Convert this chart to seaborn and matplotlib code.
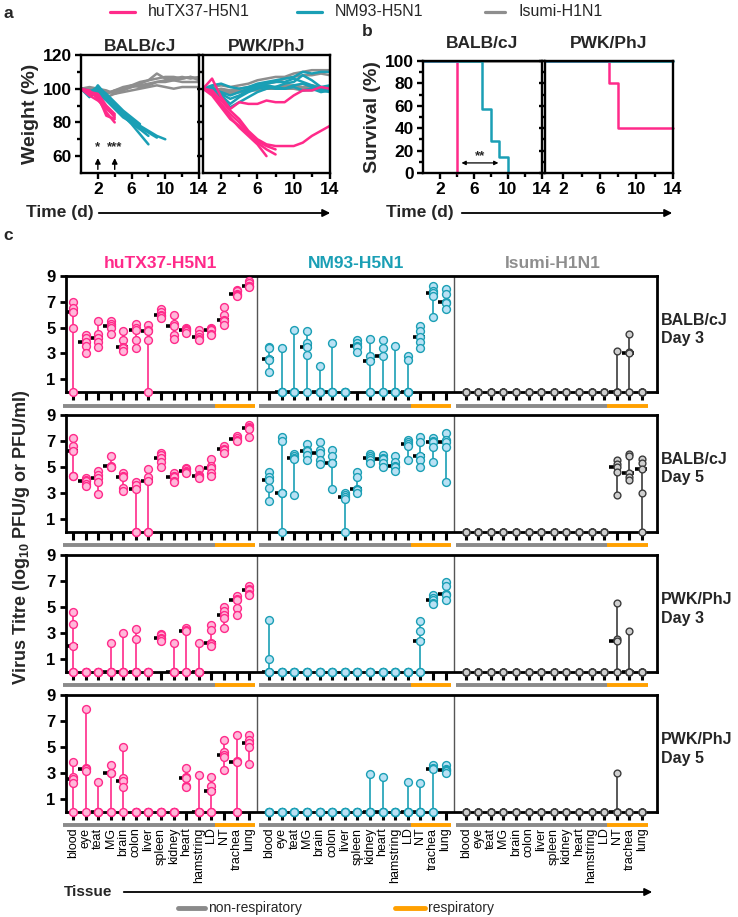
import numpy as np
import pandas as pd
import matplotlib
matplotlib.use('Agg')
import matplotlib.pyplot as plt
from matplotlib.lines import Line2D
from matplotlib.patches import FancyArrowPatch
import seaborn as sns

# ---- panel a : weight (%) per mouse, day 0..n ----
days = list(range(15))

balb_tx37 = [[100, 98, 95, 88, 84],
             [100, 97, 96, 84, 82],
             [100, 99, 94, 86, 80],
             [100, 96, 93, 89, 83],
             [100, 98, 97, 90, 85]]
balb_nm93 = [[100, 98, 101, 97, 92, 87, 83, 79],
             [100, 96, 99, 95, 90, 85, 80, 76],
             [100, 95, 102, 96, 91, 86, 82, 78],
             [100, 97, 100, 94, 89, 84, 80, 76, 72],
             [100, 99, 98, 95, 90, 84, 79, 73, 67],
             [100, 96, 97, 93, 88, 83, 80, 77, 74, 71],
             [100, 98, 100, 96, 91, 86, 81, 78, 75, 72, 70]]
balb_isumi = [[100, 99, 98, 97, 99, 100, 101, 103, 105, 109, 106, 105, 106, 107, 105],
              [100, 100, 99, 98, 98, 100, 102, 104, 105, 106, 107, 107, 106, 107, 106],
              [100, 97, 96, 95, 97, 99, 101, 102, 103, 104, 105, 106, 107, 106, 107],
              [100, 98, 98, 97, 99, 101, 102, 101, 102, 104, 104, 105, 104, 104, 104],
              [100, 101, 100, 99, 97, 98, 99, 100, 101, 102, 101, 100, 101, 101, 101]]
pwk_tx37 = [[100, 106, 95, 88, 92, 91, 91, 93, 92, 92, 96, 99, 99, 101, 100],
            [100, 99, 93, 87, 82, 75, 70, 67, 66, 66, 66, 68, 72, 75, 78],
            [100, 97, 90, 83, 77, 72, 67, 60],
            [100, 96, 89, 82, 78, 73, 68, 64, 61],
            [100, 98, 91, 85, 80, 74, 69, 66, 64]]
pwk_nm93 = [[100, 102, 103, 101, 100, 101, 103, 104, 105, 106, 107, 110, 109, 110, 110],
            [100, 98, 95, 89, 92, 95, 98, 100, 101, 103, 104, 108, 105, 101, 102],
            [100, 99, 96, 91, 95, 98, 100, 101, 100, 100, 101, 99, 100, 98, 99],
            [100, 101, 97, 94, 96, 99, 101, 102, 101, 100, 102, 103, 101, 99, 98],
            [100, 100, 98, 96, 98, 100, 102, 103, 104, 104, 106, 104, 102, 100, 100]]
pwk_isumi = [[100, 101, 102, 101, 102, 103, 105, 106, 107, 107, 109, 110, 111, 111, 111],
             [100, 99, 100, 99, 100, 101, 102, 103, 104, 106, 107, 108, 108, 109, 108],
             [100, 98, 97, 97, 98, 99, 99, 100, 100, 101, 101, 100, 101, 100, 101],
             [100, 99, 98, 98, 99, 99, 100, 101, 100, 100, 100, 99, 99, 100, 99],
             [100, 100, 99, 98, 98, 99, 100, 100, 101, 102, 102, 101, 102, 101, 100]]

# ---- panel b : survival (%) ----
surv_balb_tx37_d = [0, 4]
surv_balb_tx37 = [100, 0]
surv_balb_nm93_d = [0, 7, 8, 9, 10]
surv_balb_nm93 = [100, 57.1, 28.6, 14.3, 0]
surv_balb_isumi_d = [0, 14]
surv_balb_isumi = [100, 100]
surv_pwk_tx37_d = [0, 7, 8, 14]
surv_pwk_tx37 = [100, 80, 40, 40]
surv_pwk_nm93_d = [0, 14]
surv_pwk_nm93 = [100, 100]
surv_pwk_isumi_d = [0, 14]
surv_pwk_isumi = [100, 100]

# ---- panel c : virus titres (log10), one list per tissue ----
tissues = ['blood', 'eye', 'teat', 'MG', 'brain', 'colon', 'liver', 'spleen',
           'kidney', 'heart', 'hamstring', 'LD', 'NT', 'trachea', 'lung']
viruses = ['huTX37-H5N1', 'NM93-H5N1', 'Isumi-H1N1']

tx37_balb_d3 = [[7.0, 6.5, 6.2, 5.0, 0], [4.4, 4.2, 3.9, 3.6, 3.0], [5.5, 4.5, 4.2, 3.9, 3.5],
                [5.5, 5.3, 5.1, 5.0, 4.5], [4.7, 4.0, 3.5, 3.4, 3.2], [5.3, 5.0, 4.8, 4.0, 3.4],
                [5.2, 4.8, 4.7, 4.0, 0], [6.4, 6.2, 6.0, 5.9, 5.7], [6.0, 5.3, 5.1, 4.4, 4.1],
                [5.0, 4.9, 4.8, 4.7, 4.6], [4.8, 4.5, 4.3, 4.1, 4.0], [5.0, 4.9, 4.8, 4.5, 4.4],
                [6.6, 6.0, 5.6, 5.5, 5.2], [7.9, 7.8, 7.6, 7.5, 7.4], [8.6, 8.4, 8.2, 8.2, 8.1]]
nm93_balb_d3 = [[3.5, 3.4, 2.6, 2.5, 1.6], [3.4, 0, 0, 0, 0], [4.8, 0, 0, 0, 0],
                [4.7, 3.8, 3.5, 2.9, 0], [2.0, 0, 0, 0, 0], [3.8, 0, 0, 0, 0],
                [0, 0, 0, 0, 0], [4.0, 3.8, 3.6, 3.5, 3.1], [4.1, 2.8, 2.4, 0, 0],
                [4.0, 3.4, 2.8, 0, 0], [3.6, 0, 0, 0, 0], [2.8, 2.5, 0, 0, 0],
                [5.1, 4.7, 4.3, 3.9, 3.4], [8.2, 7.8, 7.7, 7.4, 5.8], [8.0, 7.6, 7.0, 6.9, 6.4]]
isumi_balb_d3 = [[0, 0, 0, 0, 0], [0, 0, 0, 0, 0], [0, 0, 0, 0, 0], [0, 0, 0, 0, 0],
                 [0, 0, 0, 0, 0], [0, 0, 0, 0, 0], [0, 0, 0, 0, 0], [0, 0, 0, 0, 0],
                 [0, 0, 0, 0, 0], [0, 0, 0, 0, 0], [0, 0, 0, 0, 0], [0, 0, 0, 0, 0],
                 [3.2, 0, 0, 0, 0], [4.5, 3.1, 3.0, 0, 0], [0, 0, 0, 0, 0]]

tx37_balb_d5 = [[7.2, 6.6, 6.2, 4.3, 4.3], [4.1, 4.0, 3.9, 3.7, 3.5], [4.7, 4.4, 4.1, 3.8, 2.9],
                [5.8, 5.1, 5.0, 5.0], [4.5, 4.3, 4.2, 3.4, 3.1], [3.8, 3.6, 3.3, 0, 0],
                [4.8, 4.2, 3.9, 0, 0], [6.1, 5.9, 5.7, 5.4, 5.0], [4.5, 4.3, 4.2, 3.9, 3.8],
                [4.9, 4.8, 4.7, 4.6, 4.5], [4.8, 4.4, 4.3, 4.2, 4.1], [5.6, 5.1, 4.9, 4.5, 4.3],
                [6.6, 6.4, 6.3, 6.1], [7.4, 7.2, 7.1, 7.0], [8.2, 8.1, 8.0, 7.9, 7.3]]
nm93_balb_d5 = [[4.6, 4.2, 4.0, 3.4, 2.4], [7.3, 7.0, 3.0, 3.0, 0], [6.0, 5.8, 5.7, 5.6, 2.8],
                [6.8, 6.3, 6.2, 5.9, 5.5], [6.9, 6.3, 6.1, 5.5, 5.2], [6.3, 5.8, 5.3, 5.3, 3.3],
                [3.0, 2.8, 2.7, 2.5, 0], [4.6, 4.2, 3.3, 3.2, 3.0], [6.0, 5.8, 5.7, 5.5, 5.3],
                [5.9, 5.7, 5.6, 5.3, 5.0], [5.8, 5.4, 5.1, 5.0, 4.7], [7.1, 6.9, 6.8, 6.6, 5.5],
                [7.3, 6.9, 5.8, 5.5, 5.0], [7.2, 7.0, 6.9, 6.5, 5.4], [7.6, 7.1, 6.9, 6.5, 3.8]]
isumi_balb_d5 = [[0, 0, 0, 0, 0], [0, 0, 0, 0, 0], [0, 0, 0, 0, 0], [0, 0, 0, 0, 0],
                 [0, 0, 0, 0, 0], [0, 0, 0, 0, 0], [0, 0, 0, 0, 0], [0, 0, 0, 0, 0],
                 [0, 0, 0, 0, 0], [0, 0, 0, 0, 0], [0, 0, 0, 0, 0], [0, 0, 0, 0, 0],
                 [5.5, 5.2, 5.0, 4.6, 2.8], [6.0, 5.8, 4.5, 4.2, 4.0], [5.6, 5.3, 4.8, 3.0, 0]]

tx37_pwk_d3 = [[4.6, 3.7, 2.0, 0, 0], [0, 0, 0, 0, 0], [0, 0, 0, 0, 0],
               [2.2, 0, 0, 0, 0], [3.0, 0, 0, 0, 0], [3.3, 2.5, 0, 0, 0],
               [0, 0, 0, 0, 0], [2.9, 2.8, 2.6, 2.5, 2.4], [2.2, 0, 0, 0, 0],
               [3.4, 3.2, 3.1, 0, 0], [2.2, 0, 0, 0, 0], [3.6, 3.2, 2.2, 2.1, 2.0],
               [5.0, 4.7, 4.4, 4.1, 3.4], [5.8, 5.6, 5.5, 4.9, 4.4], [6.6, 6.4, 6.3, 6.0, 5.9]]
nm93_pwk_d3 = [[4.0, 1.0, 0, 0, 0], [0, 0, 0, 0, 0], [0, 0, 0, 0, 0], [0, 0, 0, 0, 0],
               [0, 0, 0, 0, 0], [0, 0, 0, 0, 0], [0, 0, 0, 0, 0], [0, 0, 0, 0, 0],
               [0, 0, 0, 0, 0], [0, 0, 0, 0, 0], [0, 0, 0, 0, 0], [0, 0, 0, 0, 0],
               [3.9, 3.1, 2.4, 0, 0], [5.9, 5.7, 5.5, 5.3, 5.2], [6.9, 6.6, 6.0, 5.9, 5.5]]
isumi_pwk_d3 = [[0, 0, 0, 0, 0], [0, 0, 0, 0, 0], [0, 0, 0, 0, 0], [0, 0, 0, 0, 0],
                [0, 0, 0, 0, 0], [0, 0, 0, 0, 0], [0, 0, 0, 0, 0], [0, 0, 0, 0, 0],
                [0, 0, 0, 0, 0], [0, 0, 0, 0, 0], [0, 0, 0, 0, 0], [0, 0, 0, 0, 0],
                [5.3, 2.5, 2.4, 0, 0], [3.1, 0, 0, 0, 0], [0, 0, 0, 0, 0]]

tx37_pwk_d5 = [[3.8, 2.7, 2.5, 2.2, 0], [7.9, 3.4, 3.3, 3.1, 0], [2.3, 0, 0, 0, 0],
               [3.6, 3.0, 3.0, 0, 0], [5.0, 2.6, 2.4, 1.9, 0], [0, 0, 0, 0, 0],
               [0, 0, 0, 0, 0], [0, 0, 0, 0, 0], [0, 0, 0, 0, 0],
               [3.4, 2.7, 2.6, 2.0, 1.9], [2.8, 0, 0, 0, 0], [2.7, 2.0, 1.6, 0, 0],
               [5.5, 4.6, 4.4, 4.2, 3.2], [5.9, 3.9, 3.8, 0, 0], [5.9, 5.5, 5.3, 5.0, 3.7]]
nm93_pwk_d5 = [[0, 0, 0, 0, 0], [0, 0, 0, 0, 0], [0, 0, 0, 0, 0], [0, 0, 0, 0, 0],
               [0, 0, 0, 0, 0], [0, 0, 0, 0, 0], [0, 0, 0, 0, 0], [0, 0, 0, 0, 0],
               [2.9, 0, 0, 0, 0], [2.7, 0, 0, 0, 0], [0, 0, 0, 0, 0], [2.3, 0, 0, 0, 0],
               [2.2, 0, 0, 0, 0], [3.6, 3.4, 3.3, 0, 0], [3.6, 3.3, 3.2, 3.1, 3.0]]
isumi_pwk_d5 = [[0, 0, 0, 0, 0], [0, 0, 0, 0, 0], [0, 0, 0, 0, 0], [0, 0, 0, 0, 0],
                [0, 0, 0, 0, 0], [0, 0, 0, 0, 0], [0, 0, 0, 0, 0], [0, 0, 0, 0, 0],
                [0, 0, 0, 0, 0], [0, 0, 0, 0, 0], [0, 0, 0, 0, 0], [0, 0, 0, 0, 0],
                [3.0, 0, 0, 0, 0], [0, 0, 0, 0, 0], [0, 0, 0, 0, 0]]

row_labels = ['BALB/cJ\nDay 3', 'BALB/cJ\nDay 5', 'PWK/PhJ\nDay 3', 'PWK/PhJ\nDay 5']

# colours
PINK, PINK_FILL = '#ff2a8a', '#ffb8da'
TEAL, TEAL_FILL = '#1a9fb5', '#b9e1f4'
GREY, GREY_DARK, GREY_FILL = '#8e8e8e', '#3c3c3c', '#cfcfcf'
ORANGE, BAR_GREY = '#ffa000', '#8a8a8a'

sns.set_theme(style='ticks')
plt.rcParams['font.family'] = ['Liberation Sans', 'DejaVu Sans']
plt.rcParams['mathtext.fontset'] = 'custom'
plt.rcParams['mathtext.rm'] = 'Liberation Sans:bold'
plt.rcParams['mathtext.bf'] = 'Liberation Sans:bold'

W, H = 738, 917
fig = plt.figure(figsize=(W / 100, H / 100), dpi=100)


def add_ax(l, t, r, b):
    # axes from pixel box (left, top, right, bottom)
    return fig.add_axes([l / W, 1 - b / H, (r - l) / W, (b - t) / H])


def fy(y):
    return 1 - y / H


def style_box(ax, lw=1.7, size=12.5):
    for s in ax.spines.values():
        s.set_linewidth(lw)
        s.set_color('black')
    ax.tick_params(which='both', direction='out', width=lw, colors='black',
                   labelsize=size, pad=2)
    ax.tick_params(which='major', length=4.5)
    ax.tick_params(which='minor', length=3)
    for lab in ax.get_xticklabels() + ax.get_yticklabels():
        lab.set_fontweight('bold')


def weights_df(groups):
    recs = []
    for virus, mice in groups:
        for m, w in enumerate(mice):
            for d, v in zip(days, w):
                recs.append({'virus': virus, 'mouse': m, 'day': d, 'weight': v})
    return pd.DataFrame(recs)


pal = {viruses[0]: PINK, viruses[1]: TEAL, viruses[2]: GREY}

# ---------------- panel a ----------------
a_sets = [('BALB/cJ', [(viruses[2], balb_isumi), (viruses[1], balb_nm93), (viruses[0], balb_tx37)]),
          ('PWK/PhJ', [(viruses[2], pwk_isumi), (viruses[1], pwk_nm93), (viruses[0], pwk_tx37)])]
a_boxes = [(81, 55, 199, 173), (203, 55, 330, 173)]
for k, (title, groups) in enumerate(a_sets):
    ax = add_ax(*a_boxes[k])
    df = weights_df(groups)
    sns.lineplot(data=df, x='day', y='weight', hue='virus', units='mouse',
                 estimator=None, palette=pal, legend=False, lw=1.8, ax=ax)
    ax.set_xlim(0, 14)
    ax.set_ylim(50, 120)
    ax.set_yticks([60, 80, 100, 120])
    ax.set_yticks([70, 90, 110], minor=True)
    ax.set_xticks([2, 6, 10, 14])
    ax.set_xticks([4, 8, 12], minor=True)
    ax.set_xlabel('')
    ax.set_ylabel('')
    ax.set_title(title, fontsize=12.5, fontweight='bold', pad=3)
    style_box(ax)
    if k == 0:
        ax.set_ylabel('Weight (%)', fontsize=14, fontweight='bold', labelpad=3)
        for d, star in [(2, '*'), (4, '***')]:
            ax.annotate('', xy=(d, 60.5), xytext=(d, 50.5),
                        arrowprops=dict(arrowstyle='-|>', color='black', lw=1, mutation_scale=8))
            ax.text(d, 61.5, star, ha='center', va='bottom', fontsize=9.5, fontweight='bold')
    else:
        ax.set_yticklabels([])

# ---------------- panel b ----------------
b_sets = [('BALB/cJ', [(surv_balb_isumi_d, surv_balb_isumi, viruses[2]),
                       (surv_balb_tx37_d, surv_balb_tx37, viruses[0]),
                       (surv_balb_nm93_d, surv_balb_nm93, viruses[1])]),
          ('PWK/PhJ', [(surv_pwk_isumi_d, surv_pwk_isumi, viruses[2]),
                       (surv_pwk_tx37_d, surv_pwk_tx37, viruses[0]),
                       (surv_pwk_nm93_d, surv_pwk_nm93, viruses[1])])]
b_boxes = [(423, 61, 542, 173), (545, 61, 673, 173)]
for k, (title, curves) in enumerate(b_sets):
    ax = add_ax(*b_boxes[k])
    for d, s, virus in curves:
        sns.lineplot(x=d, y=s, color=pal[virus], drawstyle='steps-post', lw=1.8, ax=ax)
    for ln in ax.lines:
        ln.set_clip_on(False)
    ax.set_xlim(0, 14)
    ax.set_ylim(0, 100)
    ax.set_yticks([0, 20, 40, 60, 80, 100])
    ax.set_yticks([10, 30, 50, 70, 90], minor=True)
    ax.set_xticks([2, 6, 10, 14])
    ax.set_xticks([4, 8, 12], minor=True)
    ax.set_title(title, fontsize=12.5, fontweight='bold', pad=9)
    style_box(ax)
    if k == 0:
        ax.set_ylabel('Survival (%)', fontsize=14, fontweight='bold', labelpad=3)
        ax.annotate('', xy=(4.2, 9), xytext=(9.2, 9),
                    arrowprops=dict(arrowstyle='<|-|>', color='black', lw=0.9, mutation_scale=6))
        ax.text(6.7, 10, '**', ha='center', va='bottom', fontsize=9.5, fontweight='bold')
    else:
        ax.set_yticklabels([])

# Time (d) arrows
for x0, xa, xb in [(26, 96, 333), (386, 459, 675)]:
    fig.text(x0 / W, fy(213), 'Time (d)', fontsize=12.5, fontweight='bold', va='center')
    fig.add_artist(FancyArrowPatch((xa / W, fy(213)), (xb / W, fy(213)),
                                   transform=fig.transFigure, arrowstyle='-|>',
                                   mutation_scale=11, color='black', lw=1.3))

# ---------------- panel c ----------------
row_sets = [[tx37_balb_d3, nm93_balb_d3, isumi_balb_d3],
            [tx37_balb_d5, nm93_balb_d5, isumi_balb_d5],
            [tx37_pwk_d3, nm93_pwk_d3, isumi_pwk_d3],
            [tx37_pwk_d5, nm93_pwk_d5, isumi_pwk_d5]]
row_tops = [275.7, 415, 555, 695]
edges = [PINK, TEAL, GREY_DARK]
fills = [PINK_FILL, TEAL_FILL, GREY_FILL]
step = 15.6
xpos = [g * step + i for g in range(3) for i in range(len(tissues))]

for r, sets in enumerate(row_sets):
    top = row_tops[r]
    ax = add_ax(66, top, 657, top + 116.6)
    for g, vals in enumerate(sets):
        recs = []
        for i, v in enumerate(vals):
            for y in v:
                recs.append({'x': g * step + i, 'titre': y})
        df = pd.DataFrame(recs)
        st = df.groupby('x')['titre'].agg(['min', 'max', 'median']).reset_index()
        ax.vlines(st['x'], st['min'], st['max'], color=edges[g], lw=1.2, zorder=2)
        med = st[st['max'] > 0]
        ax.plot(med['x'] - 0.1, med['median'], ls='none', marker='_', ms=8, mew=2.6,
                color='black', zorder=2.5)
        sns.scatterplot(data=df, x='x', y='titre', color=fills[g], edgecolor=edges[g],
                        linewidth=1, s=32 if g < 2 else 24, zorder=3, legend=False, ax=ax)
        ax.collections[-1].set_clip_on(False)
        # non-respiratory / respiratory bars
        ax.plot([g * step - 0.8, g * step + 11.25], [-0.115, -0.115], color=BAR_GREY, lw=2.8,
                solid_capstyle='butt', transform=ax.get_xaxis_transform(), clip_on=False)
        ax.plot([g * step + 11.25, g * step + 14.45], [-0.115, -0.115], color=ORANGE, lw=2.8,
                solid_capstyle='butt', transform=ax.get_xaxis_transform(), clip_on=False)
    for g in range(2):
        ax.axvline(g * step + 14.65, color='#555555', lw=1, zorder=1)
    ax.set_xlim(-0.55, 46.4)
    ax.set_ylim(0, 9)
    ax.set_yticks([1, 3, 5, 7, 9])
    ax.set_xticks(xpos)
    ax.set_xlabel('')
    ax.set_ylabel('')
    style_box(ax, lw=2, size=12)
    ax.tick_params(axis='x', length=5.5, width=2.2)
    ax.tick_params(axis='y', length=4.5, pad=3)
    if r == 3:
        ax.set_xticklabels(tissues * 3, rotation=90, fontsize=9, fontweight='normal')
        ax.tick_params(axis='x', pad=6)
    else:
        ax.set_xticklabels([])
    fig.text(661 / W, fy(top + 54), row_labels[r], fontsize=11.5, fontweight='bold',
             va='center', ha='left', linespacing=1.25)

# group titles
for name, col, xc in [(viruses[0], PINK, 160), (viruses[1], TEAL, 356), (viruses[2], GREY, 553)]:
    fig.text(xc / W, fy(263), name, color=col, fontsize=12.5, fontweight='bold',
             ha='center', va='center')

fig.text(22 / W, fy(537), r'Virus Titre (log$_{10}$ PFU/g or PFU/ml)',
         rotation=90, fontsize=13, fontweight='bold', ha='center', va='center')

# Tissue arrow
fig.text(64 / W, fy(892), 'Tissue', fontsize=11, fontweight='bold', va='center')
fig.add_artist(FancyArrowPatch((121 / W, fy(892)), (655 / W, fy(892)),
                               transform=fig.transFigure, arrowstyle='-|>',
                               mutation_scale=11, color='black', lw=1.3))

# bottom legend
for x0, x1, col, lab in [(178, 205, BAR_GREY, 'non-respiratory'), (395, 425, ORANGE, 'respiratory')]:
    fig.add_artist(Line2D([x0 / W, x1 / W], [fy(908), fy(908)], color=col, lw=3.5,
                          transform=fig.transFigure))
    fig.text((x1 + 3) / W, fy(908), lab, fontsize=10, va='center')

# top legend
for x0, x1, col, lab in [(110, 135, PINK, viruses[0]), (297, 322, TEAL, viruses[1]),
                         (485, 505, GREY, viruses[2])]:
    fig.add_artist(Line2D([x0 / W, x1 / W], [fy(12), fy(12)], color=col, lw=2.3,
                          transform=fig.transFigure))
    fig.text((x1 + 13) / W, fy(12), lab, fontsize=11.5, va='center')

# panel letters
fig.text(3 / W, fy(13), 'a', fontsize=12.5, fontweight='bold', va='center')
fig.text(362 / W, fy(31), 'b', fontsize=12.5, fontweight='bold', va='center')
fig.text(3 / W, fy(236), 'c', fontsize=12.5, fontweight='bold', va='center')

fig.savefig('out.png', dpi=100)
